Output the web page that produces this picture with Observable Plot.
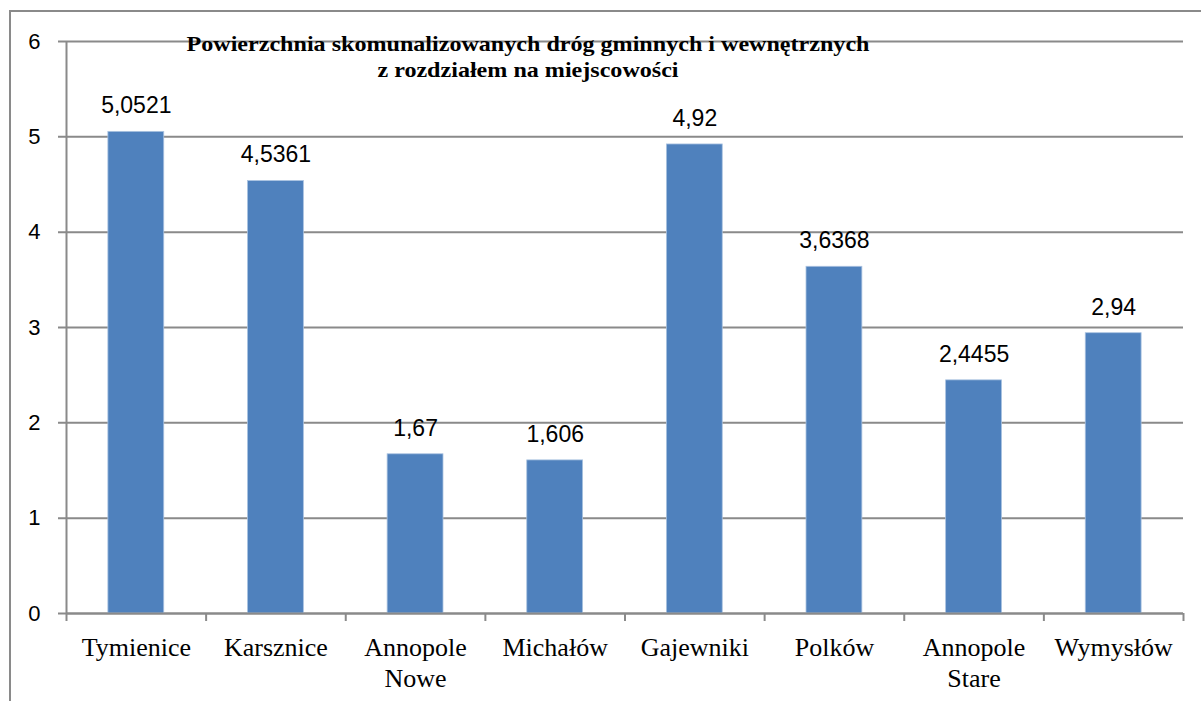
<!DOCTYPE html>
<html>
<head>
<meta charset="utf-8">
<script src="https://cdn.jsdelivr.net/npm/d3@7"></script>
<script src="https://cdn.jsdelivr.net/npm/@observablehq/plot@0.6"></script>
<style>
  html, body { margin: 0; padding: 0; background: #fff; overflow: hidden; }
  #wrap { position: relative; width: 1201px; height: 701px; overflow: hidden; }
  #frame { position: absolute; left: 9px; top: 10px; width: 1400px; height: 900px; border: 2px solid #8a8a8a; box-sizing: border-box; }
  #chart { position: absolute; left: 0; top: 0; }
  #title { position: absolute; left: 528px; top: 31px; transform: translateX(-50%) scaleX(1.12); transform-origin: center;
           font-family: "Liberation Serif", "Times New Roman", serif; font-weight: bold; font-size: 21.5px; line-height: 26px;
           text-align: center; white-space: nowrap; color: #000; }
</style>
</head>
<body>
<div id="wrap">
  <div id="frame"></div>
  <div id="chart"></div>
  <div id="title">Powierzchnia skomunalizowanych dróg gminnych i wewnętrznych<br>z rozdziałem na miejscowości</div>
</div>
<script>
const categories = ["Tymienice", "Karsznice", "Annopole\nNowe", "Michałów", "Gajewniki", "Polków", "Annopole\nStare", "Wymysłów"];
const values = [5.0521, 4.5361, 1.67, 1.606, 4.92, 3.6368, 2.4455, 2.94];
const valueLabels = ["5,0521", "4,5361", "1,67", "1,606", "4,92", "3,6368", "2,4455", "2,94"];
const yTicks = [0, 1, 2, 3, 4, 5, 6];

const data = categories.map((c, i) => ({i, c, v: values[i], label: valueLabels[i]}));
const boundaries = d3.range(0, categories.length + 1);
const centers = categories.map((c, i) => i + 0.5);

const grid = "#8a8a8a";
const chart = Plot.plot({
  width: 1201,
  height: 701,
  marginLeft: 66,
  marginRight: 18,
  marginTop: 41,
  marginBottom: 88,
  x: {type: "linear", domain: [0, categories.length], label: null},
  y: {domain: [0, 6], label: null},
  style: {background: "transparent", overflow: "visible"},
  marks: [
    Plot.ruleY(yTicks, {stroke: grid, strokeWidth: 2, insetLeft: -8}),
    Plot.ruleX([0], {stroke: grid, strokeWidth: 2}),
    Plot.rectY(data, {x1: d => d.i + 0.3, x2: d => d.i + 0.7, y: "v", fill: "#4F81BD", stroke: "#a9c2e0", strokeWidth: 0.8}),
    Plot.ruleY([0], {stroke: grid, strokeWidth: 2}),
    Plot.axisY({ticks: yTicks, tickSize: 0, tickPadding: 26, tickFormat: d => String(d), label: null,
      fontSize: 22, fontFamily: "Liberation Sans, Arial, sans-serif", fill: "#000"}),
    Plot.axisX({ticks: boundaries, tickSize: 8, tickFormat: () => "", label: null, stroke: grid, strokeWidth: 2, strokeOpacity: 1}),
    Plot.axisX({ticks: centers, tickSize: 0, tickPadding: 21, tickFormat: x => categories[Math.round(x - 0.5)], label: null,
      fontSize: 26, fontFamily: "Liberation Serif, Times New Roman, serif", fill: "#000", lineHeight: 1.19}),
    Plot.text(data, {x: d => d.i + 0.5, y: "v", text: "label", dy: -26, lineAnchor: "middle",
      fontSize: 23, fontFamily: "Liberation Sans, Arial, sans-serif", fill: "#000"})
  ]
});
document.getElementById("chart").appendChild(chart);
</script>
</body>
</html>
